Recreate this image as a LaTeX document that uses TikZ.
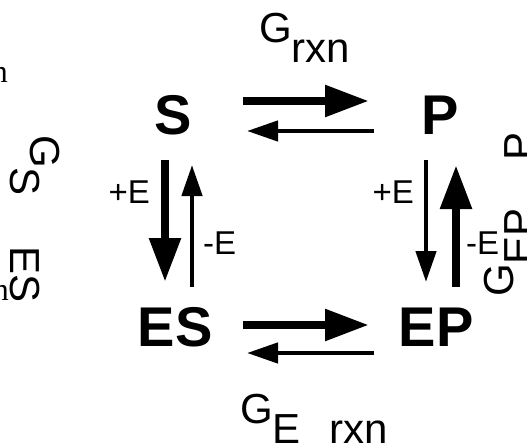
\documentclass[tikz,border=0pt]{standalone}
\usepackage{fontspec}
\setmainfont{Liberation Sans}
\newfontfamily\serifface{Liberation Serif}
\usetikzlibrary{arrows.meta}
\begin{document}
\begin{tikzpicture}[x=1pt,y=-1pt,
  species/.style={inner sep=0pt, font=\fontsize{56}{60}\selectfont\bfseries},
  energy/.style={inner sep=0pt, font=\fontsize{42}{46}\selectfont},
  enzyme/.style={inner sep=0pt, font=\fontsize{33}{36}\selectfont},
  stray/.style={inner sep=0pt, font=\serifface\fontsize{32}{34}\selectfont},
  fwd/.style={line width=8.5pt, -{Triangle[length=44pt,width=30pt]}},
  rev/.style={line width=4.5pt, -{Triangle[length=31pt,width=20pt]}},
]
\useasboundingbox (0,0) rectangle (527,444);
\clip (0,0) rectangle (527,444);

% the four species
\node[species] (S)  at (173.5,115) {S};
\node[species] (P)  at (440,115)   {P};
\node[species] (ES) at (175,327)   {ES};
\node[species] (EP) at (436,327)   {EP};

% reaction arrows (free and enzyme-bound)
\draw[fwd] ([shift={(69.5,-14)}]S.center) -- ([shift={(-71,-14)}]P.center);
\draw[rev] ([shift={(-66,16)}]P.center) -- ([shift={(73.5,16)}]S.center);
\draw[fwd] ([shift={(68,-2)}]ES.center) -- ([shift={(-67,-2)}]EP.center);
\draw[rev] ([shift={(-62,26)}]EP.center) -- ([shift={(72,26)}]ES.center);

% binding / release arrows
\draw[fwd] ([shift={(-8.5,45)}]S.center) -- ([shift={(-10,-45)}]ES.center);
\draw[rev] ([shift={(17,-40)}]ES.center) -- ([shift={(18.5,50)}]S.center);
\draw[rev] ([shift={(-14,45)}]P.center) -- ([shift={(-10,-45)}]EP.center);
\draw[fwd] ([shift={(20,-40)}]EP.center) -- ([shift={(16,50)}]P.center);

% enzyme labels
\node[enzyme, anchor=base east] (addL) at (150,203) {+E};
\node[enzyme, anchor=base west] (remL) at (203,254) {-E};
\node[enzyme, anchor=base east] (addR) at (414,203) {+E};
\node[enzyme, anchor=base west] (remR) at (466,254) {-E};

% free-energy labels
\node[energy, anchor=base west] (Grxn) at (259,43) {G\raisebox{-20pt}{rxn}};
\node[energy, anchor=base west] (GErxn) at (240,423) {G\raisebox{-20pt}{E\hspace{29pt}rxn}};
\node[energy, rotate=90, anchor=base west] (GEP) at (513,297) {G\raisebox{-20pt}{EP\hspace{48pt}P}};
\node[energy, rotate=-90, anchor=base west] (GSES) at (30,135) {G\raisebox{-20pt}{S\hspace{51pt}ES}};

% stray letters at the left edge
\node[stray, anchor=base east] (n1) at (8,82) {n};
\node[stray, anchor=base east] (n2) at (9,300) {n};
\end{tikzpicture}
\end{document}
